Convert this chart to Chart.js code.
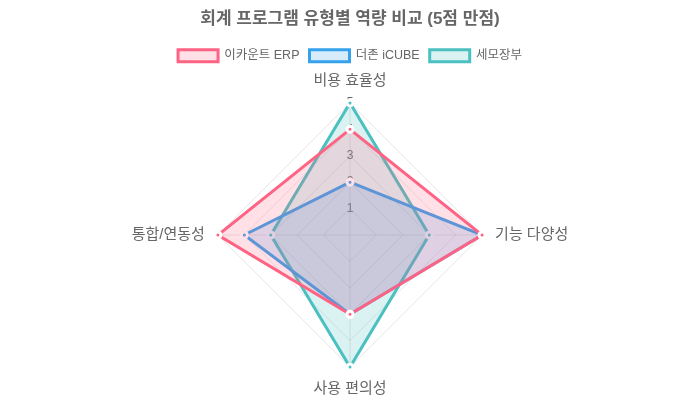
<!DOCTYPE html>
<html><head><meta charset="utf-8">
<script src="https://cdn.jsdelivr.net/npm/chart.js@4"></script>
<style>html,body{margin:0;padding:0;background:#fff}#wrap{width:700px;height:400px}</style>
</head><body><div id="wrap"><canvas id="c"></canvas></div>
<script>
const categories = ['비용 효율성', '기능 다양성', '사용 편의성', '통합/연동성'];
const ecountValues = [4, 5, 3, 5];
const douzoneValues = [2, 5, 3, 4];
const semoValues = [5, 3, 5, 3];
const seriesNames = ['이카운트 ERP', '더존 iCUBE', '세모장부'];
const titleText = '회계 프로그램 유형별 역량 비교 (5점 만점)';

Chart.defaults.font.family = "'Liberation Sans', 'Noto Sans CJK KR', sans-serif";
new Chart(document.getElementById('c'), {
  type: 'radar',
  data: {
    labels: categories,
    datasets: [
      {label: seriesNames[0], data: ecountValues, borderColor: 'rgb(255,99,132)', backgroundColor: 'rgba(255,99,132,0.2)', pointBackgroundColor: 'rgb(255,99,132)', pointBorderColor: '#fff', borderWidth: 3, pointRadius: 3},
      {label: seriesNames[1], data: douzoneValues, borderColor: 'rgb(54,162,235)', backgroundColor: 'rgba(54,162,235,0.2)', pointBackgroundColor: 'rgb(54,162,235)', pointBorderColor: '#fff', borderWidth: 3, pointRadius: 3},
      {label: seriesNames[2], data: semoValues, borderColor: 'rgb(75,192,192)', backgroundColor: 'rgba(75,192,192,0.2)', pointBackgroundColor: 'rgb(75,192,192)', pointBorderColor: '#fff', borderWidth: 3, pointRadius: 3}
    ]
  },
  options: {
    responsive: true, maintainAspectRatio: false, animation: false,
    plugins: {
      title: {display: true, text: titleText, font: {size: 17, weight: 'bold'}, color: '#666', padding: {top: 9, bottom: 10}},
      legend: {labels: {font: {size: 12.5}, boxHeight: 12, color: '#666'}}
    },
    scales: {
      r: {
        min: 0, max: 5,
        ticks: {stepSize: 1, backdropColor: 'transparent', color: '#666', font: {size: 12}},
        pointLabels: {font: {size: 15}, color: '#666'},
        grid: {color: 'rgba(0,0,0,0.1)'},
        angleLines: {color: 'rgba(0,0,0,0.1)'}
      }
    }
  }
});
</script></body></html>
